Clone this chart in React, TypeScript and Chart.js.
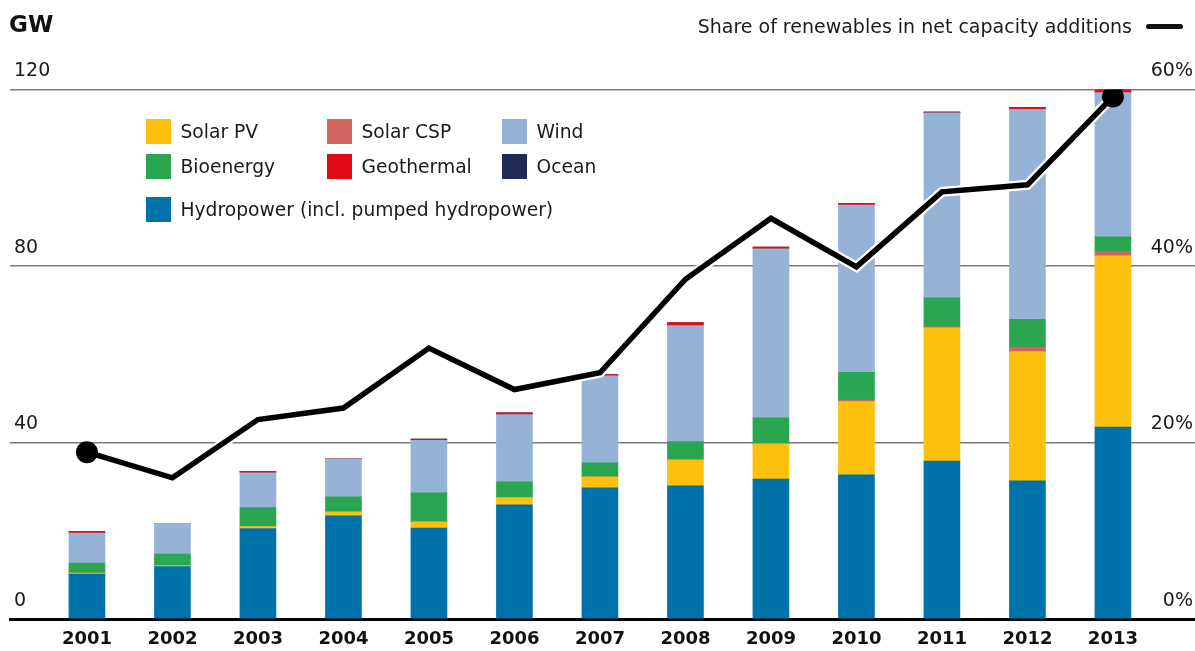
import { useEffect, useRef } from "react";
import { Chart, registerables } from "chart.js";

Chart.register(...registerables);

// ---- data ----
const years = [2001, 2002, 2003, 2004, 2005, 2006, 2007, 2008, 2009, 2010, 2011, 2012, 2013];
const hydropower = [10.2, 11.9, 20.5, 23.4, 20.6, 25.9, 29.7, 30.2, 31.7, 32.7, 35.8, 31.3, 43.5];
const solarPV = [0.2, 0.2, 0.45, 0.9, 1.4, 1.6, 2.5, 5.9, 8.0, 16.6, 30.2, 29.3, 38.8];
const solarCSP = [0, 0, 0, 0, 0, 0, 0, 0, 0.1, 0.3, 0.2, 1.0, 0.9];
const bioenergy = [2.3, 2.6, 4.3, 3.4, 6.6, 3.6, 3.2, 4.1, 5.8, 6.3, 6.6, 6.3, 3.4];
const wind = [6.8, 6.8, 7.9, 8.6, 11.9, 15.2, 19.7, 26.3, 38.3, 37.9, 41.9, 47.6, 32.7];
const geothermal = [0.3, 0, 0.25, 0, 0.25, 0.45, 0.3, 0.7, 0.4, 0.4, 0, 0.45, 0.9];
const ocean = [0, 0, 0, 0, 0, 0, 0, 0, 0, 0, 0.25, 0, 0];
const shareRenewables = [18.9, 16.0, 22.6, 23.9, 30.7, 26.0, 27.9, 38.5, 45.4, 39.9, 48.4, 49.2, 59.2];
const gwTicks = [0, 40, 80, 120];
const shareTicks = [0, 20, 40, 60];

const COLORS = {
  hydro: "#0072AA",
  pv: "#FCC00D",
  csp: "#D2645E",
  bio: "#2AA650",
  wind: "#95B3D7",
  geo: "#E30A17",
  ocean: "#1F2A56",
};

const legendItems = [
  { label: "Solar PV", color: COLORS.pv, x: 146, y: 119 },
  { label: "Solar CSP", color: COLORS.csp, x: 327, y: 119 },
  { label: "Wind", color: COLORS.wind, x: 502, y: 119 },
  { label: "Bioenergy", color: COLORS.bio, x: 146, y: 154 },
  { label: "Geothermal", color: COLORS.geo, x: 327, y: 154 },
  { label: "Ocean", color: COLORS.ocean, x: 502, y: 154 },
  { label: "Hydropower (incl. pumped hydropower)", color: COLORS.hydro, x: 146, y: 197 },
];

const FONT = "'DejaVu Sans', Verdana, sans-serif";

export default function App() {
  const ref = useRef<HTMLCanvasElement>(null);

  useEffect(() => {
    const canvas = ref.current;
    if (!canvas) return;
    Chart.defaults.font.family = FONT;
    const xy = (arr: number[]) => years.map((yr, i) => ({ x: yr, y: arr[i] }));
    const bar = (label: string, data: number[], color: string) => ({
      type: "bar" as const,
      label,
      data: xy(data),
      backgroundColor: color,
      borderWidth: 0,
      barThickness: 36,
      yAxisID: "y",
      order: 3,
    });
    const markerRadius = years.map((_, i) => (i === 0 || i === years.length - 1 ? 11 : 0));
    const fitVertical = (axis: any) => {
      axis.width = 0;
      axis.paddingTop = 0;
      axis.paddingBottom = 0;
      axis.paddingLeft = 0;
      axis.paddingRight = 0;
    };

    const chart = new Chart(canvas, {
      type: "bar",
      data: {
        datasets: [
          bar("Hydropower (incl. pumped hydropower)", hydropower, COLORS.hydro),
          bar("Solar PV", solarPV, COLORS.pv),
          bar("Solar CSP", solarCSP, COLORS.csp),
          bar("Bioenergy", bioenergy, COLORS.bio),
          bar("Wind", wind, COLORS.wind),
          bar("Geothermal", geothermal, COLORS.geo),
          bar("Ocean", ocean, COLORS.ocean),
          {
            type: "line",
            label: "outline",
            data: xy(shareRenewables),
            yAxisID: "y2",
            borderColor: "#ffffff",
            borderWidth: 10,
            pointRadius: 0,
            tension: 0,
            order: 2,
          } as any,
          {
            type: "line",
            label: "Share of renewables in net capacity additions",
            data: xy(shareRenewables),
            yAxisID: "y2",
            borderColor: "#000000",
            borderWidth: 5.5,
            borderJoinStyle: "miter",
            pointRadius: markerRadius,
            pointBackgroundColor: "#000000",
            pointBorderWidth: 0,
            tension: 0,
            order: 1,
          } as any,
        ],
      },
      options: {
        animation: false,
        responsive: true,
        maintainAspectRatio: false,
        layout: { autoPadding: false, padding: { top: 89.5, left: 10, right: 0, bottom: 0 } },
        plugins: { legend: { display: false }, tooltip: { enabled: false } },
        scales: {
          x: {
            type: "linear",
            stacked: true,
            offset: false,
            min: 2000.1,
            max: 2013.96,
            afterBuildTicks: (axis: any) => {
              axis.ticks = years.map((v) => ({ value: v }));
            },
            afterFit: (axis: any) => {
              axis.height = 32;
              axis.paddingLeft = 0;
              axis.paddingRight = 0;
              axis.paddingTop = 0;
              axis.paddingBottom = 0;
            },
            grid: { display: false, drawTicks: false },
            border: { display: true, color: "#000000", width: 3 },
            ticks: {
              autoSkip: false,
              maxRotation: 0,
              padding: 10,
              color: "#111111",
              font: { size: 18, weight: "bold" },
              callback: (v: any) => String(v),
            },
          },
          y: {
            type: "linear",
            position: "left",
            stacked: true,
            min: 0,
            max: 120,
            afterBuildTicks: (axis: any) => {
              axis.ticks = gwTicks.map((v) => ({ value: v }));
            },
            afterFit: fitVertical,
            grid: {
              drawTicks: false,
              color: (c: any) => (c.tick && c.tick.value === 0 ? "rgba(0,0,0,0)" : "#7a7a7a"),
              lineWidth: 1.5,
            },
            border: { display: false },
            ticks: {
              mirror: true,
              padding: 4,
              labelOffset: -18,
              color: "#1a1a1a",
              font: { size: 19 },
              callback: (v: any) => String(v),
            },
          },
          y2: {
            type: "linear",
            position: "right",
            min: 0,
            max: 60,
            afterBuildTicks: (axis: any) => {
              axis.ticks = shareTicks.map((v) => ({ value: v }));
            },
            afterFit: fitVertical,
            grid: { display: false, drawTicks: false },
            border: { display: false },
            ticks: {
              mirror: true,
              padding: -2,
              labelOffset: -18,
              color: "#1a1a1a",
              font: { size: 19 },
              callback: (v: any) => v + "%",
            },
          },
        },
      } as any,
    });
    return () => chart.destroy();
  }, []);

  return (
    <div
      style={{
        position: "fixed",
        left: 0,
        top: 0,
        width: 1195,
        height: 651,
        background: "#ffffff",
        fontFamily: FONT,
        color: "#1a1a1a",
        overflow: "hidden",
      }}
    >
      <canvas ref={ref} style={{ position: "absolute", left: 0, top: 0 }} />
      <div
        style={{
          position: "absolute",
          left: 9,
          top: 9,
          fontSize: 23,
          fontWeight: "bold",
          lineHeight: "30px",
          color: "#111",
        }}
      >
        GW
      </div>
      <div
        style={{
          position: "absolute",
          right: 1195 - 1132,
          top: 13,
          fontSize: 19,
          lineHeight: "26px",
          whiteSpace: "nowrap",
        }}
      >
        Share of renewables in net capacity additions
      </div>
      <div
        style={{
          position: "absolute",
          left: 1146,
          top: 24,
          width: 37,
          height: 5,
          borderRadius: 3,
          background: "#111",
        }}
      />
      {legendItems.map((it) => (
        <div key={it.label}>
          <div
            style={{
              position: "absolute",
              left: it.x,
              top: it.y,
              width: 25,
              height: 25,
              background: it.color,
            }}
          />
          <div
            style={{
              position: "absolute",
              left: it.x + 34.5,
              top: it.y,
              height: 25,
              lineHeight: "25px",
              fontSize: 18.7,
              whiteSpace: "nowrap",
            }}
          >
            {it.label}
          </div>
        </div>
      ))}
    </div>
  );
}
